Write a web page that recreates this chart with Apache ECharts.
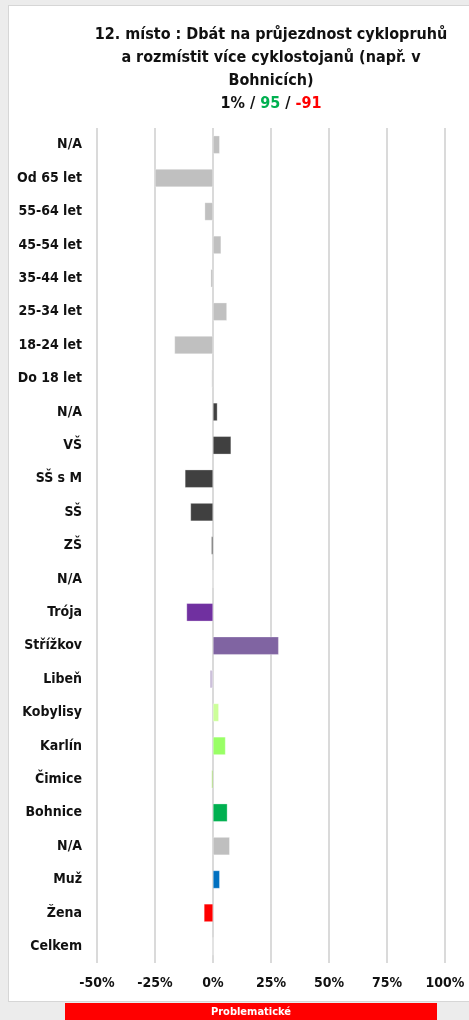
<!DOCTYPE html>
<html>
<head>
<meta charset="utf-8">
<script src="https://cdn.jsdelivr.net/npm/echarts@6/dist/echarts.min.js"></script>
<style>
  html, body { margin: 0; padding: 0; width: 469px; height: 1020px; background: #ececec; overflow: hidden; }
  #card { position: absolute; left: 8px; top: 5px; width: 470px; height: 997px; background: #fff; border: 1px solid #d6d6d6; box-sizing: border-box; }
  #chart { position: absolute; left: 0; top: 0; width: 469px; height: 1020px; }
</style>
</head>
<body>
<div id="card"></div>
<div id="chart"></div>
<script>
const categories = ['N/A', 'Od 65 let', '55-64 let', '45-54 let', '35-44 let', '25-34 let', '18-24 let', 'Do 18 let',
  'N/A', 'VŠ', 'SŠ s M', 'SŠ', 'ZŠ',
  'N/A', 'Trója', 'Střížkov', 'Libeň', 'Kobylisy', 'Karlín', 'Čimice', 'Bohnice',
  'N/A', 'Muž', 'Žena', 'Celkem'];
const values = [2.9, -25, -3.6, 3.5, -1, 6, -16.6, -0.6,
  1.9, 7.8, -12.1, -9.7, -0.7,
  0, -11.4, 28.3, -1.4, 2.5, 5.4, -0.6, 6.2,
  7.2, 2.9, -3.9, 0];
const barColors = ['#c0c0c0', '#c0c0c0', '#c0c0c0', '#c0c0c0', '#c0c0c0', '#c0c0c0', '#c0c0c0', '#c0c0c0',
  '#404040', '#404040', '#404040', '#404040', '#404040',
  '#7030a0', '#7030a0', '#8064a2', '#ccc0da', '#ccff99', '#99ff66', '#92d050', '#00b050',
  '#bfbfbf', '#0070c0', '#ff0000', '#c0c0c0'];
const xTicks = { min: -50, max: 100, step: 25 };
const titleLines = ['12. místo : Dbát na průjezdnost cyklopruhů', 'a rozmístit více cyklostojanů (např. v', 'Bohnicích)'];
const summary = { pct: '1%', plus: '95', minus: '-91' };
const bannerText = 'Problematické';

const FONT = '"DejaVu Sans Condensed", "DejaVu Sans", sans-serif';
const chart = echarts.init(document.getElementById('chart'));
chart.setOption({
  backgroundColor: 'transparent',
  animation: false,
  title: {
    text: titleLines.join('\n') + '\n{k|' + summary.pct + ' / }{g|' + summary.plus + '}{k| / }{r|' + summary.minus + '}',
    left: 266, top: 18, textAlign: 'center',
    textStyle: {
      fontFamily: FONT, fontWeight: 'bold', fontSize: 16, color: '#111', lineHeight: 23,
      rich: {
        k: { fontFamily: FONT, fontWeight: 'bold', fontSize: 16, color: '#111', lineHeight: 23 },
        g: { fontFamily: FONT, fontWeight: 'bold', fontSize: 16, color: '#00b050', lineHeight: 23 },
        r: { fontFamily: FONT, fontWeight: 'bold', fontSize: 16, color: '#ff0000', lineHeight: 23 }
      }
    }
  },
  grid: { left: 97, right: 24, top: 128, bottom: 57, containLabel: false },
  xAxis: {
    type: 'value', min: xTicks.min, max: xTicks.max, interval: xTicks.step,
    axisLine: { show: false }, axisTick: { show: false },
    splitLine: { show: true, lineStyle: { color: '#dadada', width: 2 } },
    axisLabel: { formatter: '{value}%', fontFamily: FONT, fontWeight: 'bold', fontSize: 14, color: '#111', margin: 13 }
  },
  yAxis: {
    type: 'category', data: categories.map((c, i) => String(i)), inverse: true,
    axisLine: { show: false }, axisTick: { show: false },
    axisLabel: {
      interval: 0,
      formatter: (v) => categories[Number(v)],
      fontFamily: FONT, fontWeight: 'bold', fontSize: 14, color: '#111', margin: 15
    }
  },
  series: [{
    type: 'bar', barWidth: 18,
    data: values.map((v, i) => ({ value: v, itemStyle: { color: barColors[i] } })),
    itemStyle: { borderColor: 'rgba(255,255,255,0.6)', borderWidth: 0.5 }
  }],
  graphic: [
    { type: 'rect', shape: { x: 65, y: 1003, width: 372, height: 17 }, style: { fill: '#ff0000' } },
    { type: 'text', x: 251, y: 1012, style: { text: bannerText, fill: '#fff', font: 'bold 11px ' + FONT, textAlign: 'center', textVerticalAlign: 'middle' } }
  ]
});
</script>
</body>
</html>
